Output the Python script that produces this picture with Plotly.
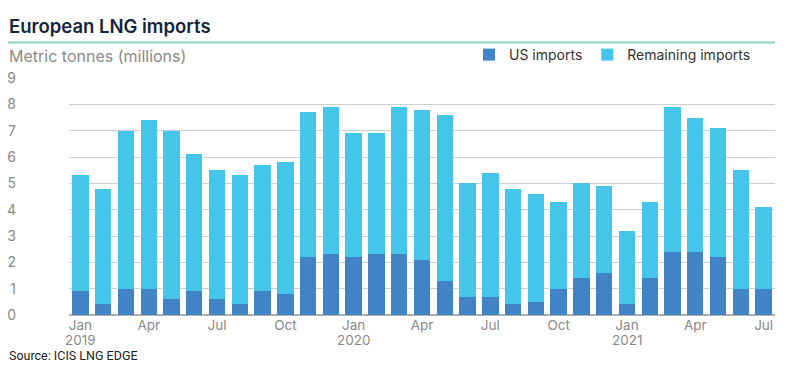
import plotly.graph_objects as go

months = [f"{y}-{m:02d}" for y in (2019, 2020, 2021) for m in range(1, 13)][:31]

total_imports = [5.3, 4.8, 7.0, 7.4, 7.0, 6.1, 5.5, 5.3, 5.7, 5.8, 7.7, 7.9,
                 6.9, 6.9, 7.9, 7.8, 7.6, 5.0, 5.4, 4.8, 4.6, 4.3, 5.0, 4.9,
                 3.2, 4.3, 7.9, 7.5, 7.1, 5.5, 4.1]
us_imports = [0.9, 0.4, 1.0, 1.0, 0.6, 0.9, 0.6, 0.4, 0.9, 0.8, 2.2, 2.3,
              2.2, 2.3, 2.3, 2.1, 1.3, 0.7, 0.7, 0.4, 0.5, 1.0, 1.4, 1.6,
              0.4, 1.4, 2.4, 2.4, 2.2, 1.0, 1.0]
remaining_imports = [round(t - u, 2) for t, u in zip(total_imports, us_imports)]

tick_months = ["2019-01", "2019-04", "2019-07", "2019-10",
               "2020-01", "2020-04", "2020-07", "2020-10",
               "2021-01", "2021-04", "2021-07"]
tick_labels = ["Jan", "Apr", "Jul", "Oct",
               "Jan", "Apr", "Jul", "Oct",
               "Jan", "Apr", "Jul"]
year_months = ["2019-01", "2020-01", "2021-01"]
year_labels = ["2019", "2020", "2021"]
y_ticks = list(range(0, 10))

US_COLOR = "#4184c6"
REM_COLOR = "#44c5e9"
FONT = "Inter, Roboto, sans-serif"

L, R, T, B = 69, 14, 78, 60
PW, PH = 789 - L - R, 375 - T - B


def px_x(x):
    return (x - L) / PW


def px_y(y):
    return (375 - B - y) / PH


fig = go.Figure()
fig.add_trace(go.Bar(x=months, y=us_imports, name="US imports",
                     marker=dict(color=US_COLOR, line=dict(width=0))))
fig.add_trace(go.Bar(x=months, y=remaining_imports, name="Remaining imports",
                     marker=dict(color=REM_COLOR, line=dict(width=0))))

annotations = [
    dict(text="European LNG imports", xref="paper", yref="paper", x=px_x(7), y=px_y(26),
         xanchor="left", yanchor="middle", showarrow=False,
         font=dict(size=18.5, color="#14253d", family=FONT, weight=600)),
    dict(text="Metric tonnes (millions)", xref="paper", yref="paper", x=px_x(7), y=px_y(56),
         xanchor="left", yanchor="middle", showarrow=False,
         font=dict(size=16, color="#8a8a8a", family=FONT)),
    dict(text="Source: ICIS LNG EDGE", xref="paper", yref="paper", x=px_x(7), y=px_y(355),
         xanchor="left", yanchor="middle", showarrow=False,
         font=dict(size=12.5, color="#222222",
                   family="Liberation Sans Narrow, Roboto, sans-serif")),
]
for m, lab in zip(year_months, year_labels):
    annotations.append(dict(text=lab, xref="x", yref="paper", x=m, y=px_y(339.5),
                            xanchor="center", yanchor="middle", showarrow=False,
                            font=dict(size=13.5, color="#8a8a8a", family=FONT)))

fig.update_layout(
    width=789, height=375,
    barmode="stack", bargap=0.28,
    plot_bgcolor="white", paper_bgcolor="white",
    margin=dict(l=L, r=R, t=T, b=B, autoexpand=False),
    font=dict(family=FONT, color="#888888"),
    showlegend=True,
    legend=dict(orientation="h", x=px_x(756), xanchor="right", y=px_y(55), yanchor="middle",
                font=dict(size=14, color="#333333"), bgcolor="rgba(0,0,0,0)",
                itemwidth=30, traceorder="normal"),
    xaxis=dict(type="category", tickmode="array", tickvals=tick_months, ticktext=tick_labels,
               tickfont=dict(size=13.5, color="#8a8a8a"), showgrid=False, ticks="",
               showline=False, range=[-0.5, 30.5], automargin=False),
    yaxis=dict(range=[0, 9], tickvals=y_ticks, tickfont=dict(size=14, color="#8a8a8a"),
               showgrid=True, gridcolor="#cfcfcf", gridwidth=1,
               zeroline=True, zerolinecolor="#b0b0b0", zerolinewidth=2,
               ticks="", ticklabelstandoff=52, showline=False, automargin=False),
    annotations=annotations,
    shapes=[
        dict(type="line", xref="paper", yref="paper", x0=px_x(8), x1=px_x(775),
             y0=px_y(42.5), y1=px_y(42.5),
             line=dict(color="#86d6b5", width=2)),
    ],
)

fig.write_html("out.html", config={"displayModeBar": False},
               post_script="document.body.style.margin='0';")
